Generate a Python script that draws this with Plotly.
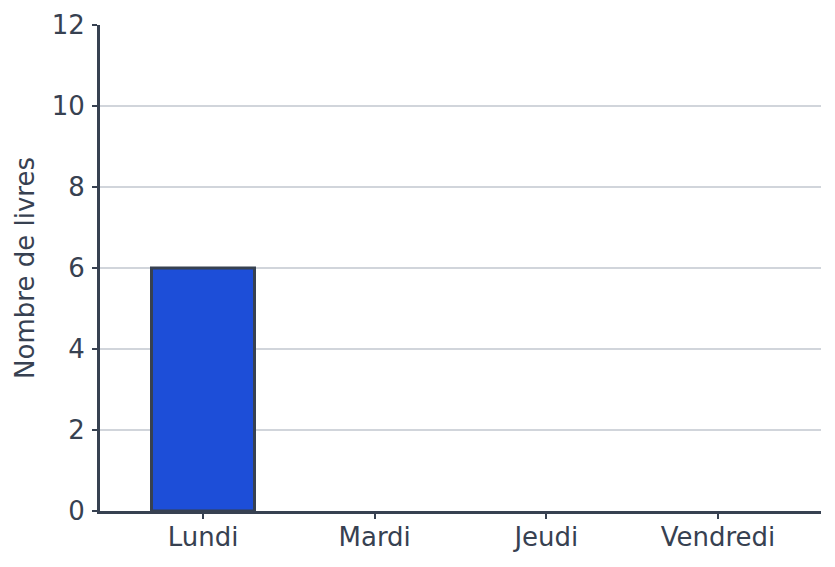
import plotly.graph_objects as go

jours = ["Lundi", "Mardi", "Jeudi", "Vendredi"]
livres = [6, 0, 0, 0]

axis_color = "#374151"

fig = go.Figure(
    go.Bar(
        x=jours,
        y=livres,
        marker={
            "color": "#1d4ed8",
            "line": {"color": axis_color, "width": [3 if v > 0 else 0 for v in livres]},
        },
    )
)

# the page body keeps its 8px browser margin, so size the figure to fit inside it
fig.update_layout(
    width=827,
    height=559,
    margin={"l": 92, "r": 14, "t": 17, "b": 56},
    plot_bgcolor="white",
    paper_bgcolor="white",
    bargap=0.4,
    showlegend=False,
    font={"family": "DejaVu Sans", "size": 26, "color": axis_color},
)
fig.update_xaxes(
    automargin=False,
    range=[-0.6, len(jours) - 0.4],
    showline=True,
    linecolor=axis_color,
    linewidth=3,
    ticks="outside",
    ticklen=5,
    tickwidth=1.5,
    tickcolor=axis_color,
    ticklabelstandoff=-4,
    showgrid=False,
)
fig.update_yaxes(
    automargin=False,
    title_text="Nombre de livres",
    title_font={"size": 26},
    title_standoff=10,
    range=[0, 12],
    dtick=2,
    showline=True,
    linecolor=axis_color,
    linewidth=3,
    ticks="outside",
    ticklen=5,
    tickwidth=2,
    tickcolor=axis_color,
    ticklabelstandoff=2,
    gridcolor="#d1d5db",
    gridwidth=1.5,
    zeroline=False,
)

fig.write_html("out.html")
